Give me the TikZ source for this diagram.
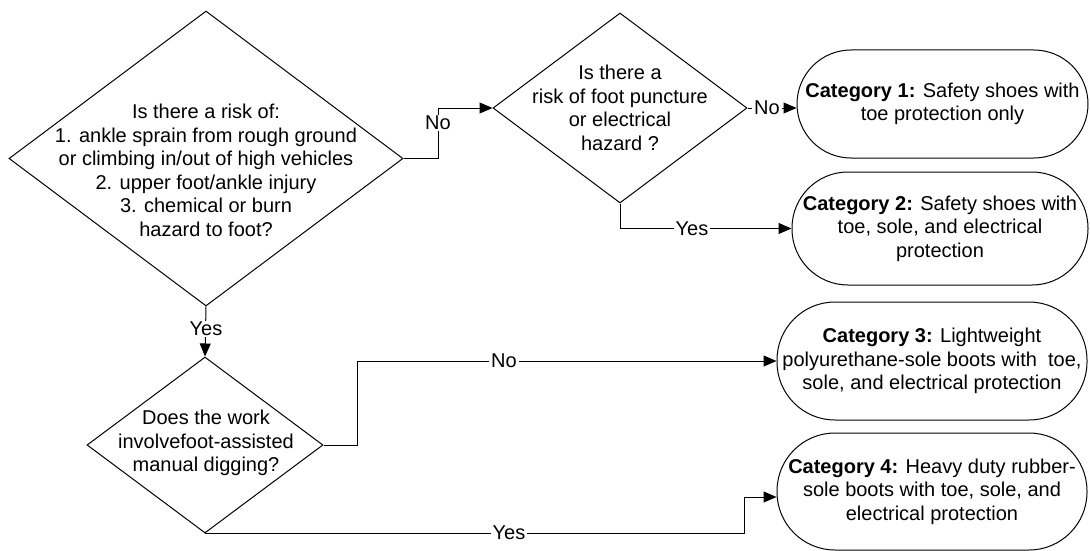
\documentclass[tikz,border=0pt]{standalone}
\usepackage{fontspec}
\setmainfont{Liberation Sans}
\usetikzlibrary{shapes.geometric,arrows.meta,calc}
\tikzset{
  every node/.style={font=\fontsize{20}{23.5}\selectfont},
  dia/.style={draw,diamond,inner sep=0pt,line width=1pt},
  txt/.style={align=center,inner sep=0pt},
  cat/.style={draw,rectangle,align=center,inner sep=0pt,line width=1pt},
  lbl/.style={fill=white,inner xsep=2pt,inner ysep=1pt},
  conn/.style={line width=1pt},
  arr/.style={conn,-{Triangle[length=13pt,width=11pt]}}
}
\begin{document}
\begin{tikzpicture}[x=1pt,y=-1pt]
\useasboundingbox (0,0) rectangle (1090,551);
% decisions
\node[dia,minimum width=394pt,minimum height=295pt] (d1) at (206,158.5) {};
\node[txt] (d1t) at (206,170.5) {Is there a risk of:\\1. ankle sprain from rough ground\\or climbing in/out of high vehicles\\2. upper foot/ankle injury\\3. chemical or burn\\hazard to foot?};
\node[dia,minimum width=254pt,minimum height=190pt] (d2) at (620,108) {};
\node[txt] (d2t) at (620,108) {Is there a\\risk of foot puncture\\or electrical\\hazard ?};
\node[dia,minimum width=236pt,minimum height=176pt] (d3) at (205,445) {};
\node[txt] (d3t) at (206,443) {Does the work\\involvefoot-assisted\\manual digging?};
% categories
\node[cat,minimum width=291pt,minimum height=108pt,rounded corners=54pt] (c1) at (942.5,104) {\textbf{Category 1:} Safety shoes with\\toe protection only};
\node[cat,minimum width=296pt,minimum height=113pt,rounded corners=56pt] (c2) at (940,228.5) {\textbf{Category 2:} Safety shoes with\\toe, sole, and electrical\\protection};
\node[cat,minimum width=310pt,minimum height=118pt,rounded corners=58pt] (c3) at (932,361) {\textbf{Category 3:} Lightweight\\polyurethane-sole boots with\ \ toe,\\sole, and electrical protection};
\node[cat,minimum width=310pt,minimum height=117pt,rounded corners=58pt] (c4) at (932,491.5) {\textbf{Category 4:} Heavy duty rubber-\\sole boots with toe, sole, and\\electrical protection};
% helper coordinates
\coordinate (k1) at (438,108);
\coordinate (k3) at (357,361);
\coordinate (k4) at (744,497);
% connectors
\draw[arr] (d1.east) -| (k1) -- (d2.west);
\node[lbl] (l1) at (438,123) {No};
\draw[arr] (d2.east) -- (d2.east -| c1.west);
\node[lbl] (l2) at (767,108) {No};
\draw[arr] (d2.south) |- (c2.west);
\node[lbl] (l3) at (692,228.5) {Yes};
\draw[arr] (d1.south) -- (d3.north);
\node[lbl] (l4) at (206,329) {Yes};
\draw[arr] (d3.east) -| (k3) -- (c3.west);
\node[lbl] (l5) at (504,361) {No};
\draw[arr] (d3.south) -| (k4) -- (k4 -| c4.west);
\node[lbl] (l6) at (509,533) {Yes};
\end{tikzpicture}
\end{document}
